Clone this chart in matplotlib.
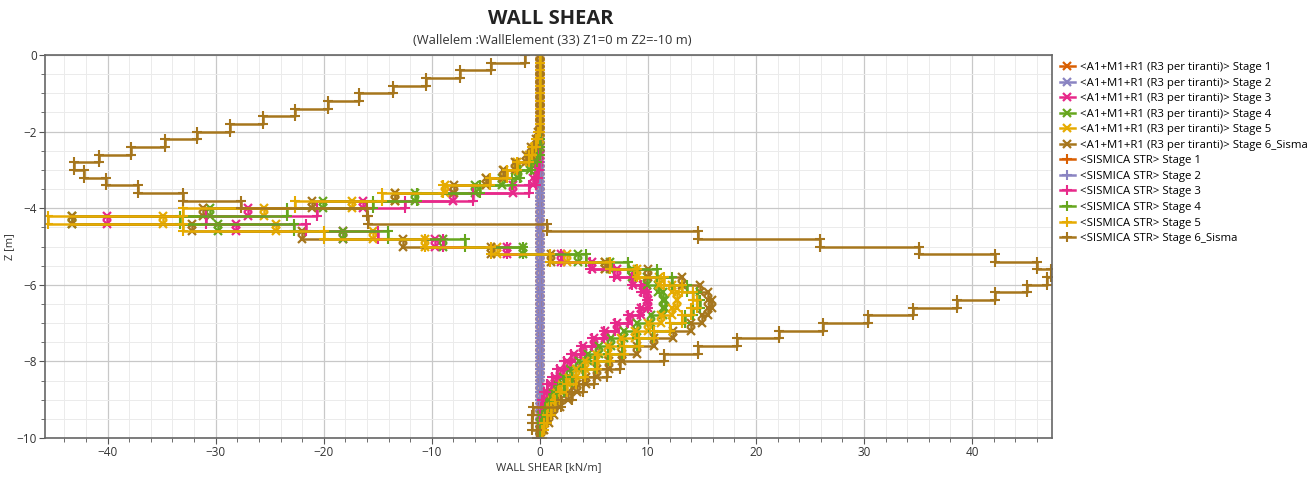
import numpy as np
import matplotlib.pyplot as plt
from matplotlib.ticker import MultipleLocator

plt.rcParams['font.family'] = ['Open Sans', 'DejaVu Sans']

# wall element boundaries [m] -> 50 elements of 0.2 m
z_nodes = np.round(np.arange(0, -10.001, -0.2), 2)

stage_names = ['Stage 1', 'Stage 2', 'Stage 3', 'Stage 4', 'Stage 5', 'Stage 6_Sisma']
stage_colors = ['#d95f02', '#8a84c2', '#e7298a', '#66a61e', '#e6ab02', '#a6761d']

# shear per element [kN/m], top to bottom
zero_stage = [0.0, 0.0, 0.0, 0.0, 0.0, 0.0, 0.0, 0.0, 0.0, 0.0,
              0.0, 0.0, 0.0, 0.0, 0.0, 0.0, 0.0, 0.0, 0.0, 0.0,
              0.0, 0.0, 0.0, 0.0, 0.0, 0.0, 0.0, 0.0, 0.0, 0.0,
              0.0, 0.0, 0.0, 0.0, 0.0, 0.0, 0.0, 0.0, 0.0, 0.0,
              0.0, 0.0, 0.0, 0.0, 0.0, 0.0, 0.0, 0.0, 0.0, 0.0]

a1_stage3 = [0.0, 0.0, 0.0, 0.0, 0.0, 0.0, 0.0, 0.0, 0.0, 0.0, 0.0, 0.0, 0.0, -0.1, -0.2, -0.3,
             -0.6, -2.5, -8.0, -16.4, -27.0, -40.1, -28.1, -18.2, -9.7, -3.0,
             2.0, 4.8, 7.1, 8.6, 9.5, 9.9, 10.0, 9.4, 8.3, 7.1,
             6.0, 5.0, 4.0, 3.2, 2.5, 1.9, 1.4, 1.0, 0.7, 0.4,
             0.2, 0.1, 0.0, 0.0]
a1_stage4 = [0.0, 0.0, 0.0, 0.0, 0.0, 0.0, 0.0, 0.0, 0.0, 0.0, 0.0, 0.0, -0.2, -0.4, -0.9, -2.0,
             -3.5, -6.0, -11.6, -20.1, -30.5, -43.3, -29.8, -18.2, -9.0, -1.6,
             3.5, 6.5, 8.5, 9.9, 10.9, 11.4, 11.6, 11.4, 10.3, 9.0,
             7.8, 6.6, 5.5, 4.5, 3.6, 2.8, 2.1, 1.5, 1.0, 0.6,
             0.3, 0.1, 0.0, 0.0]
a1_stage5 = [0.0, 0.0, 0.0, 0.0, 0.0, 0.0, 0.0, 0.0, 0.0, 0.0, 0.0, -0.2, -0.5, -1.0, -2.1, -3.3,
             -5.0, -8.8, -13.4, -17.4, -25.5, -34.9, -24.4, -15.4, -10.6, -4.0,
             2.5, 6.0, 9.0, 11.0, 12.2, 12.7, 12.7, 12.2, 11.2, 10.0,
             8.8, 7.5, 6.3, 5.2, 4.2, 3.3, 2.6, 2.0, 1.5, 1.1,
             0.8, 0.5, 0.3, 0.1]
a1_stage6 = [0.0, 0.0, 0.0, 0.0, 0.0, 0.0, 0.0, 0.0, 0.0, 0.0, -0.2, -0.4, -0.8, -1.3, -2.3, -3.4,
             -5.0, -7.9, -13.4, -21.1, -31.2, -43.3, -32.2, -22.0, -12.7, -4.5,
             1.0, 6.0, 10.0, 13.2, 14.8, 15.6, 15.9, 15.6, 15.0, 14.0,
             12.3, 10.6, 9.0, 7.6, 6.4, 5.3, 4.3, 3.4, 2.6, 1.9,
             1.3, 0.8, 0.4, 0.1]

sis_stage3 = [0.0, 0.0, 0.0, 0.0, 0.0, 0.0, 0.0, 0.0, 0.0, 0.0, 0.0, 0.0, 0.0, -0.1, -0.1, -0.2,
              -0.4, -1.0, -6.2, -12.5, -20.6, -30.9, -21.6, -15.0, -9.0, -3.0,
              2.0, 4.6, 6.9, 8.5, 9.4, 9.9, 10.0, 9.3, 8.2, 7.0,
              5.9, 4.8, 3.8, 2.9, 2.2, 1.6, 1.1, 0.7, 0.4, 0.2,
              0.1, 0.0, 0.0, 0.0]
sis_stage4 = [0.0, 0.0, 0.0, 0.0, 0.0, 0.0, 0.0, 0.0, 0.0, 0.0, 0.0, 0.0, 0.0, -0.3, -0.8, -1.8,
              -2.6, -5.5, -11.4, -15.4, -23.4, -33.3, -22.8, -14.1, -6.9, -1.6,
              4.3, 8.2, 10.8, 12.2, 13.6, 14.5, 14.8, 14.2, 13.4, 12.0,
              10.5, 9.0, 7.6, 6.3, 5.1, 4.0, 3.0, 2.2, 1.5, 0.9,
              0.5, 0.2, 0.1, 0.0]
sis_stage5 = [0.0, 0.0, 0.0, 0.0, 0.0, 0.0, 0.0, 0.0, 0.0, 0.0, -0.2, -0.4, -0.7, -1.0, -2.1, -3.0,
              -4.6, -9.0, -14.6, -22.7, -33.0, -45.5, -33.0, -20.0, -10.6, -4.5,
              0.9, 6.5, 9.0, 11.5, 13.2, 14.2, 14.5, 14.0, 13.2, 12.0,
              10.6, 9.2, 7.8, 6.5, 5.3, 4.2, 3.3, 2.5, 1.9, 1.4,
              1.0, 0.7, 0.4, 0.2]
sis_stage6 = [-1.4, -4.5, -7.4, -10.5, -13.6, -16.7, -19.6, -22.7, -25.6, -28.7,
              -31.7, -34.7, -37.8, -40.8, -43.1, -42.2, -40.2, -37.2, -33.0, -27.7,
              -16.0, -15.9, 0.7, 14.6, 25.9, 35.1, 42.1, 46.0, 47.3, 46.9,
              45.1, 42.1, 38.6, 34.5, 30.4, 26.2, 22.1, 18.2, 14.6, 11.5,
              7.4, 6.2, 5.0, 4.0, 3.0, 2.0, -0.6, -0.7, -0.7, -0.3]

a1_series = [zero_stage, zero_stage, a1_stage3, a1_stage4, a1_stage5, a1_stage6]
sis_series = [zero_stage, zero_stage, sis_stage3, sis_stage4, sis_stage5, sis_stage6]


def stairs(vals):
    # constant shear along each element -> staircase
    x = np.repeat(np.asarray(vals, dtype=float), 2)
    z = np.repeat(z_nodes, 2)[1:-1]
    return x, z


fig = plt.figure(figsize=(13.15, 4.79), dpi=100)
ax = fig.add_axes([45 / 1315, 1 - 438 / 479, (1052 - 45) / 1315, (438 - 55) / 479])

handles = []
for vals, name, col in zip(a1_series, stage_names, stage_colors):
    x, z = stairs(vals)
    h, = ax.plot(x, z, color=col, lw=1.8, marker='x', ms=6, mew=1.6,
                 label='<A1+M1+R1 (R3 per tiranti)> ' + name)
    handles.append(h)
for vals, name, col in zip(sis_series, stage_names, stage_colors):
    x, z = stairs(vals)
    h, = ax.plot(x, z, color=col, lw=1.8, marker='+', ms=7.5, mew=1.5,
                 label='<SISMICA STR> ' + name)
    handles.append(h)

ax.set_xlim(-45.8, 47.4)
ax.set_ylim(-10, 0)
ax.xaxis.set_major_locator(MultipleLocator(10))
ax.xaxis.set_minor_locator(MultipleLocator(2))
ax.yaxis.set_major_locator(MultipleLocator(2))
ax.yaxis.set_minor_locator(MultipleLocator(0.5))
ax.grid(which='major', color='#c8c8c8', lw=0.9)
ax.grid(which='minor', color='#ebebeb', lw=0.7)
ax.set_axisbelow(True)
ax.tick_params(which='both', colors='#555555', labelcolor='#333333', labelsize=8.5, direction='out')
ax.tick_params(which='major', length=4, pad=2)
ax.tick_params(which='minor', length=3)
for s in ax.spines.values():
    s.set_color('#666666')
    s.set_linewidth(1.2)

ax.set_xlabel('WALL SHEAR [kN/m]', fontsize=8, color='#333333', labelpad=2)
ax.set_ylabel('Z [m]', fontsize=8, color='#333333')
ax.yaxis.set_label_coords(-30 / 1007, 0.5)

fig.text(551 / 1315, 1 - 19 / 479, 'WALL SHEAR', ha='center', va='center',
         fontsize=14.5, fontweight='bold', color='#222222')
fig.text(552 / 1315, 1 - 40 / 479, '(Wallelem :WallElement (33) Z1=0 m Z2=-10 m)',
         ha='center', va='center', fontsize=9.3, color='#333333')

fig.legend(handles=handles, loc='upper left', bbox_to_anchor=(1060 / 1315, 1 - 62 / 479),
           frameon=False, fontsize=8.2, numpoints=1, handlelength=1.3, handletextpad=0.5,
           labelspacing=0.4, borderaxespad=0, borderpad=0)

fig.savefig('out.png', dpi=100)
